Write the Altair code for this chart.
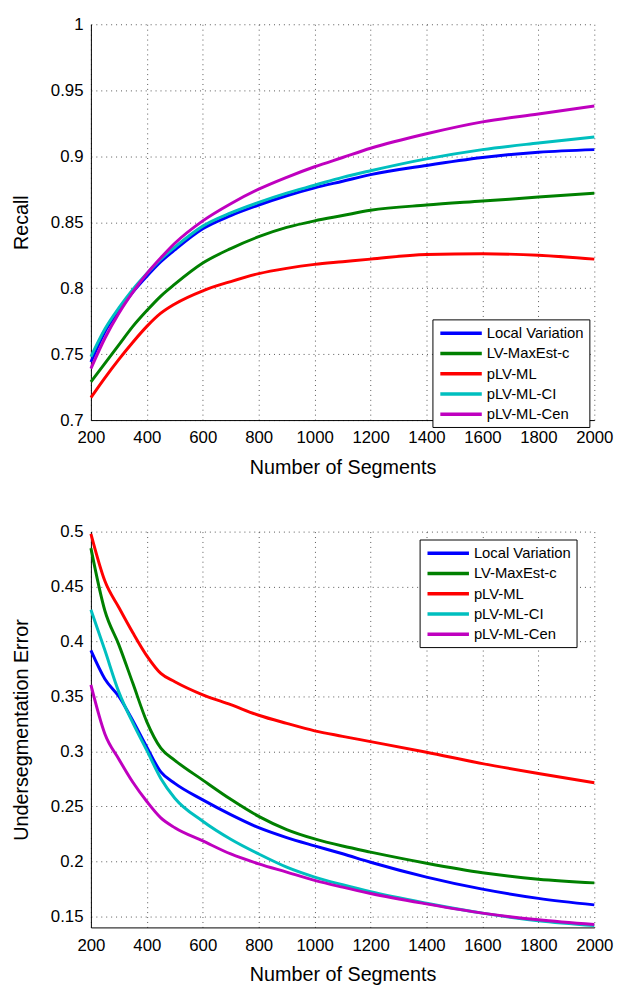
import altair as alt
import pandas as pd

methods = ["Local Variation", "LV-MaxEst-c", "pLV-ML", "pLV-ML-CI", "pLV-ML-Cen"]
colors = ["#0000FF", "#008000", "#FF0000", "#00BFBF", "#BF00BF"]

segments = [200, 250, 300, 350, 400, 450, 500, 600, 700, 800, 900, 1000, 1100, 1200, 1400, 1600, 1800, 2000]

# Recall
recall_lv = [0.744, 0.767, 0.783, 0.797, 0.809, 0.820, 0.829, 0.845, 0.855, 0.863, 0.870, 0.876, 0.881, 0.886, 0.893, 0.899, 0.903, 0.905]
recall_maxest = [0.729, 0.743, 0.757, 0.771, 0.783, 0.794, 0.803, 0.819, 0.830, 0.839, 0.846, 0.851, 0.855, 0.859, 0.863, 0.866, 0.869, 0.872]
recall_ml = [0.717, 0.732, 0.746, 0.759, 0.771, 0.781, 0.788, 0.798, 0.805, 0.811, 0.815, 0.818, 0.820, 0.822, 0.8255, 0.826, 0.825, 0.822]
recall_ci = [0.748, 0.769, 0.785, 0.799, 0.811, 0.822, 0.831, 0.847, 0.857, 0.865, 0.872, 0.878, 0.884, 0.889, 0.898, 0.905, 0.910, 0.9145]
recall_cen = [0.739, 0.762, 0.781, 0.797, 0.811, 0.823, 0.834, 0.851, 0.864, 0.875, 0.884, 0.892, 0.899, 0.906, 0.917, 0.926, 0.932, 0.938]

# Undersegmentation error
ue_lv = [0.392, 0.366, 0.350, 0.328, 0.304, 0.2814, 0.271, 0.256, 0.2426, 0.2307, 0.2217, 0.2142, 0.207, 0.1993, 0.1858, 0.1748, 0.1664, 0.1605]
ue_maxest = [0.485, 0.428, 0.397, 0.362, 0.327, 0.303, 0.292, 0.274, 0.2565, 0.241, 0.229, 0.2205, 0.214, 0.2085, 0.1984, 0.1897, 0.1838, 0.1805]
ue_ml = [0.498, 0.455, 0.431, 0.408, 0.387, 0.371, 0.3635, 0.3516, 0.3426, 0.333, 0.3256, 0.3188, 0.3138, 0.309, 0.2993, 0.289, 0.280, 0.2716]
ue_ci = [0.429, 0.392, 0.354, 0.326, 0.301, 0.2755, 0.2575, 0.2366, 0.2202, 0.2068, 0.1948, 0.1858, 0.1788, 0.1724, 0.1620, 0.153, 0.1461, 0.1417]
ue_cen = [0.3606, 0.316, 0.293, 0.272, 0.2545, 0.2396, 0.2307, 0.2187, 0.2068, 0.1978, 0.1903, 0.1828, 0.1766, 0.1709, 0.1614, 0.153, 0.147, 0.1426]

x_ticks = [200, 400, 600, 800, 1000, 1200, 1400, 1600, 1800, 2000]
recall_ticks = [0.7, 0.75, 0.8, 0.85, 0.9, 0.95, 1.0]
ue_ticks = [0.15, 0.2, 0.25, 0.3, 0.35, 0.4, 0.45, 0.5]


def make_df(series):
    rows = []
    for m, vals in zip(methods, series):
        for s, v in zip(segments, vals):
            rows.append({"segments": s, "value": v, "method": m})
    return pd.DataFrame(rows)


recall_df = make_df([recall_lv, recall_maxest, recall_ml, recall_ci, recall_cen])
ue_df = make_df([ue_lv, ue_maxest, ue_ml, ue_ci, ue_cen])

FONT = "Liberation Sans"


def panel(df, ytitle, ydomain, yticks, lx, ly):
    return alt.Chart(df).mark_line(strokeWidth=3, interpolate="monotone").encode(
        x=alt.X("segments:Q",
                scale=alt.Scale(domain=[200, 2000], nice=False, zero=False),
                axis=alt.Axis(values=x_ticks, title="Number of Segments", format="d",
                              labelOverlap=False, labelFlush=False)),
        y=alt.Y("value:Q",
                scale=alt.Scale(domain=ydomain, nice=False, zero=False),
                axis=alt.Axis(values=yticks, title=ytitle, format="~g",
                              labelOverlap=False, labelFlush=False)),
        color=alt.Color("method:N",
                        scale=alt.Scale(domain=methods, range=colors),
                        sort=methods,
                        legend=alt.Legend(orient="none", legendX=lx, legendY=ly, title=None,
                                          symbolType="M-3,0H3", symbolSize=196,
                                          symbolStrokeWidth=3.5, symbolOffset=15,
                                          labelOffset=17,
                                          labelFont=FONT, labelFontSize=15,
                                          labelColor="black",
                                          rowPadding=3.5, padding=5,
                                          strokeColor="black", fillColor="white")),
        order=alt.Order("method_order:Q"),
    ).transform_calculate(
        method_order="indexof(" + str(methods) + ", datum.method)"
    ).properties(width=510, height=401)


top = panel(recall_df, "Recall", [0.7, 1.0], recall_ticks, 346, 299)
bottom = panel(ue_df, "Undersegmentation Error", [0.14, 0.5], ue_ticks, 333, 8)

chart = alt.vconcat(top, bottom, spacing=46).resolve_legend(color="independent").properties(
    padding={"left": 3, "top": 1, "right": 5, "bottom": 5},
    background="white",
).configure_axis(
    labelFont=FONT, labelFontSize=17, labelColor="black",
    titleFont=FONT, titleFontSize=20, titleFontWeight="normal", titleColor="black",
    domainColor="black", domainWidth=1,
    grid=True, gridColor="#444444", gridDash=[1, 4], gridWidth=1, gridOpacity=0.9,
    tickSize=0,
).configure_axisX(
    labelPadding=10, titlePadding=12,
).configure_axisY(
    labelPadding=8, titlePadding=19,
).configure_view(
    stroke=None
)

chart.save("out.html", embed_options={"renderer": "svg", "actions": False})
